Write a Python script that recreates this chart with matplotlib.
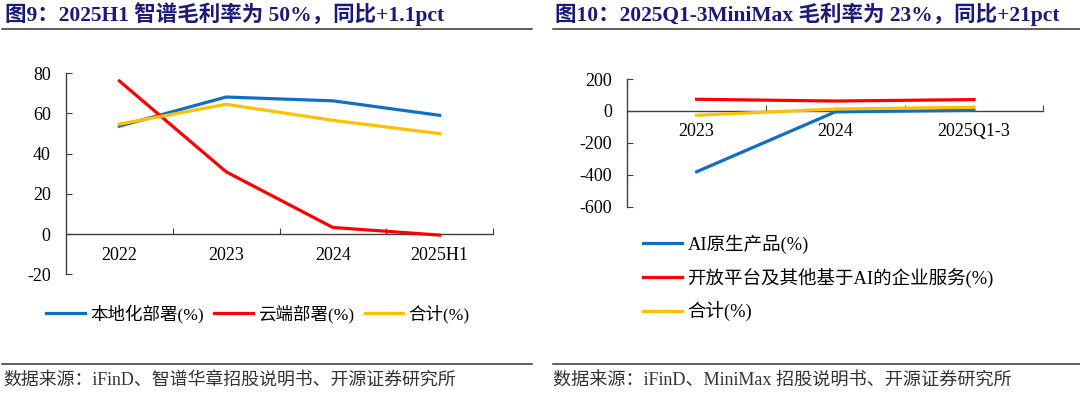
import matplotlib
matplotlib.use("Agg")
import matplotlib.pyplot as plt
from matplotlib.lines import Line2D

# 图9：智谱毛利率
zp_years = ["2022", "2023", "2024", "2025H1"]
zp_local = [53.7, 68.2, 66.3, 59.1]
zp_cloud = [76.2, 31.0, 3.3, -0.5]
zp_total = [54.7, 64.6, 56.6, 50.0]
zp_labels = ["本地化部署(%)", "云端部署(%)", "合计(%)"]

# 图10：MiniMax毛利率
mm_years = ["2023", "2024", "2025Q1-3"]
mm_native = [-381, -6, 4]
mm_open = [73, 62, 71]
mm_total = [-27, 12, 23]
mm_labels = ["AI原生产品(%)", "开放平台及其他基于AI的企业服务(%)", "合计(%)"]

BLUE = "#0F6FC6"
RED = "#FF0000"
YELLOW = "#FFC000"
NAVY = "#1B1A7A"
AXIS = "#404040"
W, H = 1080, 396

MIX = ["Liberation Serif", "Noto Sans CJK SC"]
plt.rcParams["font.family"] = MIX
plt.rcParams["axes.unicode_minus"] = False

fig = plt.figure(figsize=(W / 100, H / 100), dpi=100)


def fx(px):
    return px / W


def fy(py):
    return 1 - py / H


def style_axis(ax, cats, ylim, yticks):
    n = len(cats)
    ax.set_xlim(-0.5, n - 0.5)
    ax.set_ylim(*ylim)
    ax.set_yticks(yticks)
    ax.spines[["top", "right"]].set_visible(False)
    ax.spines["bottom"].set_position(("data", 0))
    for s in ("left", "bottom"):
        ax.spines[s].set_color(AXIS)
        ax.spines[s].set_linewidth(1.0)
    # ticks sit between categories, labels sit under the category
    ax.set_xticks([i + 0.5 for i in range(n)])
    ax.set_xticklabels([])
    ax.set_xticks(range(n), minor=True)
    ax.set_xticklabels(cats, minor=True)
    ax.tick_params(axis="x", which="major", direction="in", length=4, color=AXIS)
    ax.tick_params(axis="x", which="minor", length=0, pad=9, labelsize=13)
    ax.tick_params(axis="y", direction="in", length=4, color=AXIS, pad=11, labelsize=13)
    ax.patch.set_visible(False)


# left chart
ax1 = fig.add_axes([fx(66), fy(274.3), fx(493 - 66), (274.3 - 73.3) / H])
x1 = range(len(zp_years))
ax1.plot(x1, zp_local, color=BLUE, lw=2.3, zorder=3)
ax1.plot(x1, zp_cloud, color=RED, lw=2.3, zorder=3)
ax1.plot(x1, zp_total, color=YELLOW, lw=2.3, zorder=3)
style_axis(ax1, zp_years, (-20, 80), [-20, 0, 20, 40, 60, 80])
fig.legend(ax1.lines, zp_labels, loc="center", bbox_to_anchor=(fx(258), fy(314)),
           ncol=3, frameon=False, fontsize=12.6, handlelength=2.2, handletextpad=0.3,
           columnspacing=0.6, borderaxespad=0, borderpad=0)

# right chart
ax2 = fig.add_axes([fx(627.3), fy(206.7), fx(1043.3 - 627.3), (206.7 - 79) / H])
x2 = range(len(mm_years))
ax2.plot(x2, mm_native, color=BLUE, lw=2.3, zorder=3)
ax2.plot(x2, mm_open, color=RED, lw=2.3, zorder=3)
ax2.plot(x2, mm_total, color=YELLOW, lw=2.3, zorder=3)
style_axis(ax2, mm_years, (-600, 200), [-600, -400, -200, 0, 200])
fig.legend(ax2.lines, mm_labels, loc="center left", bbox_to_anchor=(fx(643), fy(278)),
           ncol=1, frameon=False, fontsize=13.3, handlelength=2.1, handletextpad=0.3,
           labelspacing=0.75, borderaxespad=0, borderpad=0)

# titles, rules and sources
fig.text(fx(5), fy(21), "图9：2025H1 智谱毛利率为 50%，同比+1.1pct", color=NAVY,
         fontsize=15.5, fontweight="bold", va="baseline")
fig.text(fx(555), fy(21), "图10：2025Q1-3MiniMax 毛利率为 23%，同比+21pct", color=NAVY,
         fontsize=15.5, fontweight="bold", va="baseline")
for a, b in [(2, 532), (553, 1080)]:
    for y in (28.5, 364):
        fig.add_artist(Line2D([fx(a), fx(b)], [fy(y), fy(y)], transform=fig.transFigure,
                              color="#333333", lw=1.1))
fig.text(fx(3), fy(381), "数据来源：iFinD、智谱华章招股说明书、开源证券研究所",
         color="#333333", fontsize=12.9, va="center")
fig.text(fx(553), fy(381), "数据来源：iFinD、MiniMax 招股说明书、开源证券研究所",
         color="#333333", fontsize=13.1, va="center")

fig.savefig("out.png", dpi=100)
